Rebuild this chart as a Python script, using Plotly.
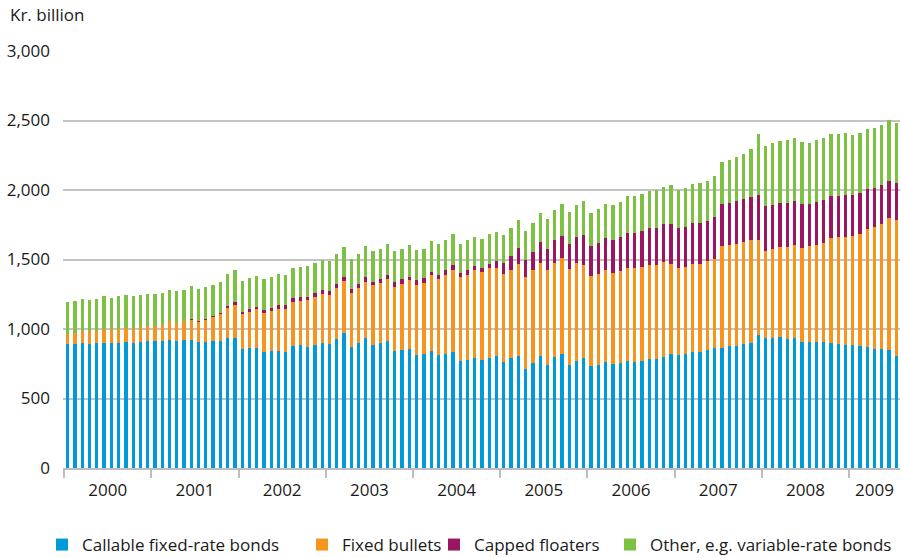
import numpy as np
import pandas as pd
import plotly.graph_objects as go

# Monthly outstanding amounts, Jan 2000 - Jul 2009 (Kr. billion)
months = pd.date_range("2000-01-01", periods=115, freq="MS")

callable_fixed = [
    894, 894, 901, 894, 901, 901, 901, 901, 909, 901, 909, 916,
    916, 916, 923, 916, 923, 923, 909, 906, 913, 913, 935, 935,
    856, 863, 863, 834, 841, 841, 834, 877, 885, 870, 885, 899,
    892, 928, 971, 870, 901, 937, 887, 901, 916, 844, 851, 858,
    815, 822, 844, 815, 822, 837, 772, 779, 793, 779, 793, 805,
    760, 788, 803, 709, 752, 803, 738, 796, 817, 738, 767, 788,
    731, 738, 760, 745, 752, 767, 760, 767, 781, 781, 796, 817,
    810, 817, 832, 832, 846, 861, 861, 875, 875, 889, 897, 954,
    933, 933, 940, 925, 933, 904, 904, 904, 904, 897, 889, 882,
    882, 875, 868, 853, 853, 846, 803,
]
fixed_bullets = [
    72, 77, 87, 89, 87, 99, 99, 101, 101, 101, 103, 108,
    108, 115, 132, 130, 132, 144, 144, 159, 174, 195, 216, 238,
    252, 260, 281, 281, 289, 303, 310, 318, 317, 339, 346, 353,
    353, 368, 375, 392, 397, 404, 426, 433, 447, 461, 476, 491,
    498, 512, 541, 548, 570, 591, 605, 613, 628, 634, 649, 635,
    634, 635, 663, 664, 671, 671, 685, 678, 693, 692, 707, 671,
    649, 656, 663, 656, 664, 670, 677, 678, 678, 678, 685, 649,
    627, 628, 634, 634, 642, 641, 735, 728, 736, 736, 742, 685,
    627, 641, 649, 664, 670, 678, 692, 699, 714, 757, 772, 779,
    786, 808, 851, 880, 902, 952, 981,
]
capped_floaters = [
    0, 0, 0, 0, 0, 0, 0, 0, 0, 0, 0, 0,
    0, 0, 0, 0, 0, 8, 7, 7, 3, 7, 15, 22,
    15, 21, 15, 22, 21, 29, 29, 29, 29, 22, 29, 29,
    29, 29, 29, 29, 29, 36, 28, 29, 29, 36, 36, 28,
    36, 36, 28, 29, 29, 36, 29, 36, 29, 29, 29, 50,
    80, 101, 116, 122, 130, 151, 152, 166, 158, 181, 187, 217,
    216, 224, 231, 239, 245, 253, 253, 259, 267, 267, 274, 289,
    289, 288, 296, 296, 288, 303, 303, 303, 310, 310, 311, 325,
    325, 318, 317, 317, 318, 317, 303, 310, 310, 303, 296, 303,
    296, 295, 288, 281, 281, 267, 266,
]
other = [
    231, 233, 231, 229, 231, 240, 226, 238, 238, 238, 236, 231,
    231, 231, 229, 230, 229, 237, 231, 231, 227, 224, 231, 230,
    223, 224, 223, 224, 224, 224, 216, 216, 216, 223, 216, 217,
    216, 216, 216, 215, 216, 217, 217, 216, 216, 217, 216, 224,
    216, 209, 217, 216, 216, 216, 209, 209, 209, 209, 209, 210,
    201, 202, 202, 209, 209, 209, 216, 216, 231, 230, 231, 245,
    238, 245, 245, 252, 252, 267, 267, 267, 267, 274, 267, 281,
    274, 281, 281, 288, 289, 296, 303, 310, 317, 325, 346, 440,
    432, 447, 447, 455, 454, 447, 440, 448, 447, 447, 447, 447,
    433, 433, 433, 433, 433, 440, 433,
]

series_names = ["Callable fixed-rate bonds", "Fixed bullets",
                "Capped floaters", "Other, e.g. variable-rate bonds"]
series_values = [callable_fixed, fixed_bullets, capped_floaters, other]
colors = ["#009AD8", "#F7941D", "#9A1660", "#7DC142"]

x = np.arange(len(months))
years = months.year
year_labels = sorted(set(years))
year_centers = [x[years == y].mean() for y in year_labels]
year_starts = [x[years == y].min() - 0.5 for y in year_labels]

font = "Open Sans, Noto Sans, sans-serif"
txt = "#1a1a1a"

# one legend per series so each entry can sit where the original puts it
legend_ids = ["legend", "legend2", "legend3", "legend4"]
legend_left = [42, 302, 434, 610]

fig = go.Figure()
for name, vals, col, lg in zip(series_names, series_values, colors, legend_ids):
    fig.add_trace(go.Bar(
        x=x, y=vals, name=name, legend=lg, showlegend=True,
        marker=dict(color=col, line=dict(width=0)),
    ))

legends = {
    lg: dict(orientation="h", xref="container", x=px / 902, xanchor="left",
             yref="container", y=1 - 545/558, yanchor="middle",
             font=dict(size=17, color=txt), itemwidth=30,
             bgcolor="rgba(0,0,0,0)")
    for lg, px in zip(legend_ids, legend_left)
}

fig.update_layout(
    barmode="stack",
    bargap=0.55,
    showlegend=True,
    width=902, height=558,
    margin=dict(l=63, r=2, t=51, b=90, autoexpand=False),
    paper_bgcolor="white", plot_bgcolor="white",
    font=dict(family=font, size=17, color=txt),
    xaxis=dict(
        range=[-0.65, 114.5], automargin=False,
        tickmode="array", tickvals=year_centers, ticktext=[str(y) for y in year_labels],
        ticks="", showgrid=False, zeroline=False,
        showline=True, linecolor="#bdbdbd", linewidth=1.5,
        ticklabelstandoff=6,
        minor=dict(tickmode="array", tickvals=year_starts, ticks="outside",
                   ticklen=8, tickcolor="#bdbdbd", tickwidth=1.5, showgrid=False),
    ),
    yaxis=dict(
        range=[0, 3000], dtick=500, tickformat=",", automargin=False,
        showgrid=True, gridcolor="#c4c4c4", gridwidth=1.5,
        zeroline=False, showline=False, ticks="",
        ticklabelstandoff=12,
    ),
    annotations=[dict(text="Kr. billion", xref="paper", yref="paper",
                      x=0, y=1, xanchor="left", yanchor="middle",
                      xshift=-55, yshift=37, showarrow=False,
                      font=dict(size=17, color=txt))],
    **legends,
)

fig.write_html("out.html", config={"displayModeBar": False},
               post_script="document.body.style.margin='0';")
